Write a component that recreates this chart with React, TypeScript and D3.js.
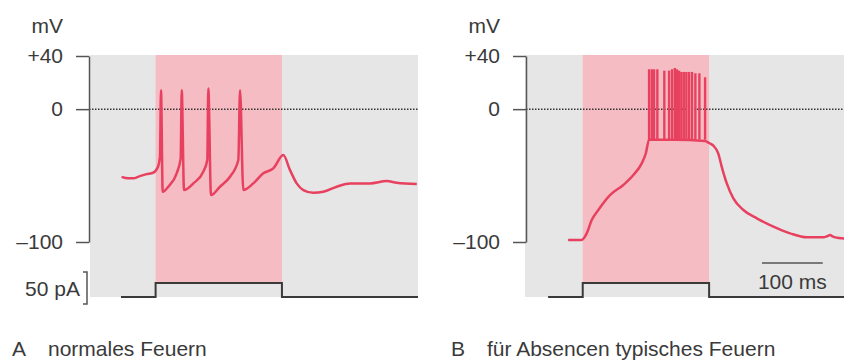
import React, { useEffect, useRef } from 'react'
import * as d3 from 'd3'

// membrane potential ticks (mV)
const mvTicks = [40, 0, -100]
const mvTickLabels = ['+40', '0', '–100']

// current injection window (ms) and amplitude (pA)
const stimWindow = [0, 208]
const stimAmplitude = 50

// A: normal firing, [ms, mV]
const traceA = [
  [-56, -51], [-45, -52.1], [-37, -52.1], [-26, -50.4], [-15, -48.9], [-4, -47.9],
  [3.5, -43.8], [7.2, -35.9], [8.9, 14.3], [11.7, -62.2], [20.9, -58.4], [34.7, -48.3],
  [41.3, -37.1], [43, 14.3], [46.8, -60.9], [62.1, -55.9], [78.5, -47.1], [85.1, -38.3],
  [86.8, 15.6], [91.2, -64.7], [106, -58.4], [122.5, -50.9], [136.2, -38.3], [139, 14.3],
  [144.4, -60.9], [160.8, -55.9], [177.3, -48.3], [193.8, -44.6], [210.2, -34.6],
  [221.3, -45.9], [232.3, -55.9], [243.2, -60.9], [259.6, -62.9], [276.1, -62.2],
  [298.2, -58.4], [320, -55.9], [353, -55.9], [380.5, -54.1], [396.9, -55.4], [430, -56.4],
]

// B: burst firing, slow envelope [ms, mV]
const traceB = [
  [-24, -98.5], [-2, -98.5], [6.6, -93.5], [14.8, -83.5], [25.7, -75.9], [44.9, -64.7],
  [66.8, -57.1], [83.3, -49.6], [97.1, -40.8], [104, -33], [109.2, -23], [150, -23],
  [201.4, -24], [208, -25.5], [215, -27.5], [223, -33.3], [228.8, -43.4], [237.1, -55.9],
  [247.9, -67.1], [264.4, -75.9], [286.5, -82.2], [313.8, -88.5], [341.3, -93.5],
  [368.8, -96.5], [396, -96.5], [403, -95.5], [407, -94.7], [411, -95.8], [415.4, -96.5],
  [430, -97.3],
]
// B: burst spikes riding on the plateau
const burstTimes = [109.2, 113.6, 117.4, 122.8, 134.3, 142.1, 147, 151.5, 154.8, 158.5, 162.3, 166.3, 170.6, 175, 179.9, 185.4, 192, 201.4]
const burstPeaks = [30, 30, 30, 30, 29, 29, 30, 31, 30, 29, 28, 28, 28, 28, 28, 27, 27, 24]
const burstBase = -23

const panels = [
  { letter: 'A', title: 'normales Feuern', domain: [-108, 432], range: [90, 418], axisX: 89, trace: traceA, spikes: false, scaleBar: false, pA: true, currentStart: -57, titleX: 12 },
  { letter: 'B', title: 'für Absencen typisches Feuern', domain: [-95, 430], range: [525, 844], axisX: 526, trace: traceB, spikes: true, scaleBar: true, pA: false, currentStart: -57, titleX: 451 },
]

const RED = '#e8405f'
const INK = '#3a3a3a'
const FONT = '"Liberation Sans", Arial, Helvetica, sans-serif'
const FS = '21px'

export default function App() {
  const svgRef = useRef(null)

  useEffect(() => {
    const svg = d3.select(svgRef.current)
    svg.selectAll('*').remove()

    const y = d3.scaleLinear().domain([40, -100]).range([56, 242])
    const yI = d3.scaleLinear().domain([0, stimAmplitude]).range([297, 283])

    panels.forEach((p) => {
      const x = d3.scaleLinear().domain(p.domain).range(p.range)
      const g = svg.append('g')
      const [x0, x1] = p.range

      // gray recording area
      g.append('rect').attr('x', x0).attr('y', 55).attr('width', x1 - x0).attr('height', 242).attr('fill', '#e6e6e6')
      // stimulus window
      g.append('rect')
        .attr('x', x(stimWindow[0])).attr('y', 55)
        .attr('width', x(stimWindow[1]) - x(stimWindow[0])).attr('height', yI(stimAmplitude) - 55)
        .attr('fill', '#f5bcc3')

      // zero line
      g.append('line')
        .attr('x1', p.axisX).attr('x2', x1).attr('y1', y(0)).attr('y2', y(0))
        .attr('stroke', '#333').attr('stroke-width', 1.5).attr('stroke-dasharray', '1.5 1.5')

      // injected current
      const cur = [
        [p.currentStart, 0], [stimWindow[0], 0], [stimWindow[0], stimAmplitude],
        [stimWindow[1], stimAmplitude], [stimWindow[1], 0], [p.domain[1], 0],
      ]
      g.append('path')
        .attr('d', d3.line().x((d) => x(d[0])).y((d) => yI(d[1]))(cur))
        .attr('fill', 'none').attr('stroke', INK).attr('stroke-width', 2)

      // voltage trace
      const line = d3.line().x((d) => x(d[0])).y((d) => y(d[1])).curve(d3.curveMonotoneX)
      g.append('path').attr('d', line(p.trace))
        .attr('fill', 'none').attr('stroke', RED).attr('stroke-width', 2.5).attr('stroke-linejoin', 'round')

      if (p.spikes) {
        g.selectAll('.spike').data(burstTimes).join('line')
          .attr('x1', (d) => x(d)).attr('x2', (d) => x(d))
          .attr('y1', y(burstBase)).attr('y2', (d, i) => y(burstPeaks[i]))
          .attr('stroke', RED).attr('stroke-width', 2.4)
      }

      // mV axis
      const axis = d3.axisLeft(y).tickValues(mvTicks)
        .tickFormat((d, i) => mvTickLabels[i]).tickSize(13).tickSizeOuter(0).tickPadding(13)
      const ag = g.append('g').attr('transform', `translate(${p.axisX},0)`).call(axis)
      ag.select('.domain').attr('stroke', '#555').attr('stroke-width', 1.5)
      ag.selectAll('.tick line').attr('stroke', '#555').attr('stroke-width', 1.5)
      ag.selectAll('.tick text').attr('fill', INK).style('font-size', FS).style('font-family', FONT)

      g.append('text').attr('x', p.axisX - 26).attr('y', 33).attr('text-anchor', 'end')
        .attr('fill', INK).style('font-size', FS).style('font-family', FONT).text('mV')

      if (p.pA) {
        const bx = p.axisX - 2
        g.append('path').attr('d', `M${bx - 4},272H${bx}V304H${bx - 4}`)
          .attr('fill', 'none').attr('stroke', '#555').attr('stroke-width', 1.5)
        g.append('text').attr('x', bx - 7).attr('y', 296).attr('text-anchor', 'end')
          .attr('fill', INK).style('font-size', FS).style('font-family', FONT).text(`${stimAmplitude} pA`)
      }

      if (p.scaleBar) {
        g.append('line').attr('x1', x(295)).attr('x2', x(395)).attr('y1', 263).attr('y2', 263)
          .attr('stroke', '#555').attr('stroke-width', 1.5)
        g.append('text').attr('x', x(345)).attr('y', 289).attr('text-anchor', 'middle')
          .attr('fill', INK).style('font-size', FS).style('font-family', FONT).text('100 ms')
      }

      g.append('text').attr('x', p.titleX).attr('y', 356).attr('fill', INK)
        .style('font-size', FS).style('font-family', FONT).text(p.letter)
      g.append('text').attr('x', p.titleX + 36).attr('y', 356).attr('fill', INK)
        .style('font-size', FS).style('font-family', FONT).text(p.title)
    })
  }, [])

  return (
    <svg ref={svgRef} width={844} height={360}
      style={{ position: 'absolute', left: 0, top: 0, background: '#fff' }} />
  )
}
